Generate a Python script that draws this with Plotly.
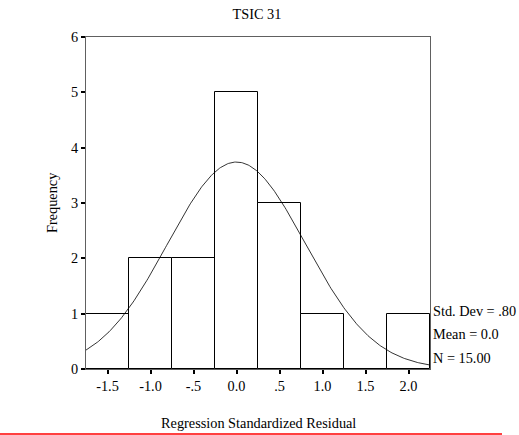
import numpy as np
import plotly.graph_objects as go

# Data
bin_centers = [-1.5, -1.0, -0.5, 0.0, 0.5, 1.0, 1.5, 2.0]
frequencies = [1, 2, 2, 5, 3, 1, 0, 1]
bin_width = 0.5
std_dev = 0.80
mean = 0.0
n_obs = 15
x_tick_vals = [-1.5, -1.0, -0.5, 0.0, 0.5, 1.0, 1.5, 2.0]
x_tick_text = ["-1.5", "-1.0", "-.5", "0.0", ".5", "1.0", "1.5", "2.0"]
y_tick_vals = [0, 1, 2, 3, 4, 5, 6]
stats_lines = ["Std. Dev = .80", "Mean = 0.0", "N = 15.00"]

FONT = "Liberation Serif"
FS = 14.3

# Normal curve from displayed statistics
xs = np.linspace(-1.75, 2.25, 300)
ys = n_obs * bin_width / (std_dev * np.sqrt(2 * np.pi)) * np.exp(-0.5 * ((xs - mean) / std_dev) ** 2)

fig = go.Figure()
fig.add_trace(go.Bar(
    x=bin_centers, y=frequencies, width=bin_width,
    marker=dict(color="white", line=dict(color="black", width=1)),
    showlegend=False, hoverinfo="skip"))
fig.add_trace(go.Scatter(
    x=xs, y=ys, mode="lines", line=dict(color="black", width=0.8),
    showlegend=False, hoverinfo="skip"))

for i, t in enumerate(stats_lines):
    fig.add_annotation(x=1.0, xref="paper", xanchor="left", xshift=1,
                       y=1 - i * 0.43, yref="y", yanchor="middle", yshift=3,
                       text=t, showarrow=False,
                       font=dict(family=FONT, size=FS, color="black"))

# axis titles
fig.add_annotation(x=0.5, xref="paper", y=-0.163, yref="paper",
                   xanchor="center", yanchor="middle", showarrow=False,
                   text="Regression Standardized Residual",
                   font=dict(family=FONT, size=FS, color="black"))
fig.add_annotation(x=-34/344, xref="paper", y=0.5, yref="paper", textangle=-90,
                   xanchor="center", yanchor="middle", showarrow=False,
                   text="Frequency",
                   font=dict(family=FONT, size=FS, color="black"))

# red rule at the bottom of the page
fig.add_shape(type="line", xref="paper", yref="paper",
              x0=-86/344, x1=(502-86)/344, y0=-0.196, y1=-0.196,
              line=dict(color="red", width=1.5))

fig.update_layout(
    width=519, height=435,
    margin=dict(l=86, r=89, t=37, b=66, autoexpand=False),
    paper_bgcolor="white", plot_bgcolor="white",
    font=dict(family=FONT, size=FS, color="black"),
    title=dict(text="TSIC 31", x=0.495, xanchor="center", y=0.968, yanchor="middle",
               font=dict(family=FONT, size=FS)),
    bargap=0,
    xaxis=dict(range=[-1.75, 2.25], tickvals=x_tick_vals, ticktext=x_tick_text,
               showgrid=False, zeroline=False, showline=True, linecolor="#606060",
               linewidth=1, mirror=True, ticks="outside", ticklen=4, tickwidth=2,
               tickcolor="black", automargin=False),
    yaxis=dict(range=[0, 6], tickvals=y_tick_vals, showgrid=False, zeroline=False,
               showline=True, linecolor="#606060", linewidth=1, mirror=True,
               ticks="outside", ticklen=4, tickwidth=2, tickcolor="black",
               automargin=False),
)

fig.write_html("out.html")
